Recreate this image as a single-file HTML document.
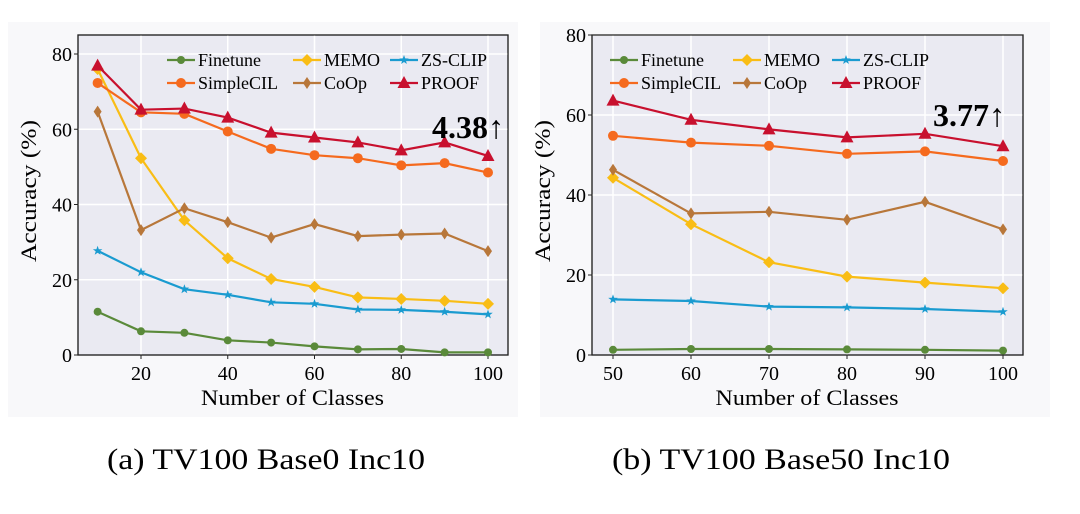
<!DOCTYPE html>
<html><head><meta charset="utf-8">
<style>
body{margin:0;background:#fff;width:1080px;height:509px;overflow:hidden;font-family:"Liberation Serif",serif;}
svg text{font-family:"Liberation Serif",serif;}
</style></head>
<body>
<svg id="fig" width="1080" height="509" xmlns="http://www.w3.org/2000/svg">
<rect x="8" y="22" width="510" height="395" fill="#f8f8fa"/>
<rect x="540" y="22" width="510" height="395" fill="#f8f8fa"/>
<text x="107" y="469" font-size="30" textLength="318" lengthAdjust="spacingAndGlyphs">(a)  TV100 Base0 Inc10</text>
<text x="612" y="469" font-size="30" textLength="338" lengthAdjust="spacingAndGlyphs">(b)  TV100 Base50 Inc10</text>
</svg>
<script>
const seriesNames = ["Finetune","MEMO","ZS-CLIP","SimpleCIL","CoOp","PROOF"];
const seriesColors = ["#5a8a3a","#f9bd15","#1a9bd0","#f56a1e","#b8773a","#c8102e"];
const seriesMarkers = ["circle","diamond","star","circle","thin-diamond","triangle"];
const xA = [10,20,30,40,50,60,70,80,90,100];
const finetuneA = [11.5,6.3,5.9,3.9,3.3,2.3,1.5,1.6,0.7,0.7];
const memoA = [76,52.3,35.8,25.7,20.2,18.1,15.3,14.9,14.4,13.6];
const zsclipA = [27.7,22,17.5,16,14,13.6,12.1,12,11.5,10.8];
const simplecilA = [72.3,64.5,64.1,59.4,54.8,53.1,52.3,50.4,51,48.5];
const coopA = [64.7,33.2,39,35.3,31.2,34.8,31.6,32,32.3,27.6];
const proofA = [76.9,65.2,65.5,63.1,59.1,57.8,56.5,54.4,56.5,52.9];
const xTicksA = [20,40,60,80,100];
const xB = [50,60,70,80,90,100];
const finetuneB = [1.3,1.5,1.5,1.4,1.3,1.1];
const memoB = [44.3,32.7,23.2,19.6,18.1,16.7];
const zsclipB = [13.9,13.5,12.1,11.9,11.5,10.8];
const simplecilB = [54.8,53.1,52.3,50.3,50.9,48.5];
const coopB = [46.3,35.4,35.8,33.8,38.3,31.4];
const proofB = [63.6,58.8,56.4,54.4,55.3,52.2];
const xTicksB = [50,60,70,80,90,100];
const yTicks = [0,20,40,60,80];

const NS="http://www.w3.org/2000/svg";
const svg=document.getElementById('fig');
function mk(tag,attrs,parent){const e=document.createElementNS(NS,tag);for(const k in attrs)e.setAttribute(k,attrs[k]);(parent||svg).appendChild(e);return e;}
function marker(g,type,cx,cy,color){
  let e;
  if(type==="circle"){e=mk('circle',{cx,cy,r:color==="#5a8a3a"?4:5,fill:color},g);}
  else if(type==="diamond"){e=mk('polygon',{points:`${cx},${cy-6} ${cx+6},${cy} ${cx},${cy+6} ${cx-6},${cy}`,fill:color},g);}
  else if(type==="thin-diamond"){e=mk('polygon',{points:`${cx},${cy-6} ${cx+4},${cy} ${cx},${cy+6} ${cx-4},${cy}`,fill:color},g);}
  else if(type==="triangle"){e=mk('polygon',{points:`${cx},${cy-7} ${cx+6.5},${cy+5} ${cx-6.5},${cy+5}`,fill:color},g);}
  else {let p=[];for(let i=0;i<10;i++){const r=i%2?2:5;const a=-Math.PI/2+i*Math.PI/5;p.push((cx+r*Math.cos(a)).toFixed(1)+","+(cy+r*Math.sin(a)).toFixed(1));}
    e=mk('polygon',{points:p.join(' '),fill:color},g);}
  return e;
}
function chart(id,box,xs,series,xTicks,xRange,legendCols,ann){
  const g=mk('g',{});
  
  
  const sx=v=>box.x0+(v-xRange[0])/(xRange[1]-xRange[0])*(box.x1-box.x0);
  const sy=v=>box.y0-(v/80)*(box.y0-box.y80);
  const bg=mk('rect',{x:box.l,y:box.t,width:box.r-box.l,height:box.b-box.t,fill:"#eaeaf2",stroke:"#222","stroke-width":1.2},g);
  
  
  yTicks.forEach(t=>{
    const y=sy(t);
    if(t>0){const l=mk('line',{x1:box.l,x2:box.r,y1:y,y2:y,stroke:"#fff","stroke-width":1.5},g);}
    mk('line',{x1:box.l-4,x2:box.l,y1:y,y2:y,stroke:"#222"},g);
    const tx=mk('text',{x:box.l-6,y:y+7,"font-size":20,"text-anchor":"end"},g);tx.textContent=t;
    
  });
  xTicks.forEach(t=>{
    const x=sx(t);
    const l=mk('line',{x1:x,x2:x,y1:box.t,y2:box.b,stroke:"#fff","stroke-width":1.5},g);
    
    mk('line',{x1:x,x2:x,y1:box.b,y2:box.b+4,stroke:"#222"},g);
    const tx=mk('text',{x:x,y:box.b+25,"font-size":20,"text-anchor":"middle"},g);tx.textContent=t;
    
  });
  mk('rect',{x:box.l,y:box.t,width:box.r-box.l,height:box.b-box.t,fill:"none",stroke:"#222","stroke-width":1.2},g);
  const cx=(box.l+box.r)/2;
  const xt=mk('text',{x:cx-92,y:box.b+50,"font-size":22,textLength:183,lengthAdjust:"spacingAndGlyphs"},g);xt.textContent="Number of Classes";
  
  const yx=box.l-42,yy=191;
  const yt=mk('text',{x:yx-71,y:yy,"font-size":22,textLength:142,lengthAdjust:"spacingAndGlyphs",transform:`rotate(-90 ${yx} ${yy})`},g);yt.textContent="Accuracy (%)";
  
  series.forEach((vals,i)=>{
    const sg=mk('g',{},g);
    
    
    mk('polyline',{points:vals.map((v,j)=>sx(xs[j])+","+sy(v)).join(' '),fill:"none",stroke:seriesColors[i],"stroke-width":2.2},sg);
    vals.forEach((v,j)=>{const m=marker(sg,seriesMarkers[i],sx(xs[j]),sy(v),seriesColors[i]);
      });
  });
  const lg=mk('g',{},g);
  
  
  const rows=[box.t+25,box.t+48];
  seriesNames.forEach((n,i)=>{
    const c=i%3,r=Math.floor(i/3);
    const lx=legendCols[c],ly=rows[r];
    const eg=mk('g',{},lg);
    
    
    mk('line',{x1:lx,x2:lx+28,y1:ly,y2:ly,stroke:seriesColors[i],"stroke-width":2.2},eg);
    marker(eg,seriesMarkers[i],lx+14,ly,seriesColors[i]);
    const t=mk('text',{x:lx+31,y:ly+6,"font-size":18},eg);t.textContent=n;
  });
  const a=mk('text',{x:ann.x,y:ann.y,"font-size":32,"font-weight":"bold"},g);a.textContent=ann.t;
  
}
chart('left',{l:78,r:508,t:35,b:355,x0:141,x1:488,y0:355,y80:54},xA,
  [finetuneA,memoA,zsclipA,simplecilA,coopA,proofA],xTicksA,[20,100],[167,293,390],{x:432,y:138,t:"4.38↑"});
chart('right',{l:592,r:1023,t:35,b:355,x0:613,x1:1003,y0:355,y80:35},xB,
  [finetuneB,memoB,zsclipB,simplecilB,coopB,proofB],xTicksB,[50,100],[610,733,832],{x:933,y:126,t:"3.77↑"});
</script>
</body></html>
